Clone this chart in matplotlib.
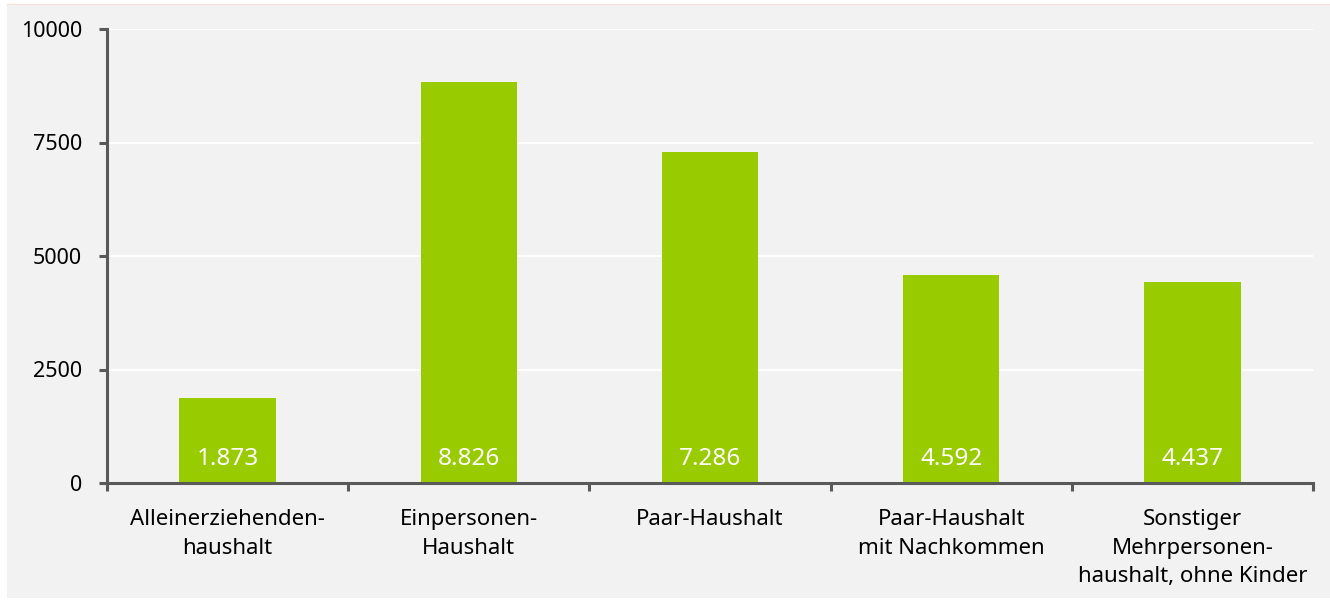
import matplotlib.pyplot as plt
from matplotlib.patches import Rectangle
import numpy as np

categories = ['Alleinerziehenden-\nhaushalt', 'Einpersonen-\nHaushalt', 'Paar-Haushalt',
              'Paar-Haushalt\nmit Nachkommen', 'Sonstiger\nMehrpersonen-\nhaushalt, ohne Kinder']
values = [1873, 8826, 7286, 4592, 4437]
labels = ['1.873', '8.826', '7.286', '4.592', '4.437']
yticks = [0, 2500, 5000, 7500, 10000]

plt.rcParams['font.family'] = ['Noto Sans', 'DejaVu Sans']
W, H = 1330, 601
fig = plt.figure(figsize=(W / 100, H / 100), dpi=100)
fig.patch.set_facecolor('white')
fig.patches.append(Rectangle((7 / W, 3 / H), 1 - 7 / W, 1 - 8 / H, transform=fig.transFigure,
                             facecolor='#f2f2f2', edgecolor='none', zorder=-10))
fig.lines.append(plt.Line2D([7 / W, 1], [1 - 4 / H, 1 - 4 / H], transform=fig.transFigure,
                            color='#f8dcd8', lw=0.8))

ax = fig.add_axes([107 / W, 1 - 483 / H, (1313 - 107) / W, (483 - 29) / H])
ax.set_facecolor('#f2f2f2')
x = np.arange(len(values))
ax.bar(x, values, width=0.4, color='#99cc00', zorder=3)
for xi, lab in zip(x, labels):
    ax.text(xi, 260, lab, ha='center', va='bottom', color='white', fontsize=17.5, zorder=4)

ax.set_xlim(-0.5, len(values) - 0.5)
ax.set_ylim(0, 10000)
ax.set_yticks(yticks)
ax.set_yticklabels([str(v) for v in yticks], fontsize=15.5)
ax.set_xticks(np.arange(len(values) + 1) - 0.5)
ax.set_xticklabels([])
ax.set_xticks(x, minor=True)
ax.set_xticklabels(categories, minor=True, fontsize=16, linespacing=1.45, va='top')
ax.tick_params(axis='x', which='minor', length=0, pad=19)
ax.tick_params(axis='x', which='major', length=6, width=2.2, color='#595959')
ax.tick_params(axis='y', length=6, width=2.2, color='#595959', pad=12)
ax.grid(axis='y', color='white', lw=1.5, zorder=0)
for s in ['top', 'right']:
    ax.spines[s].set_visible(False)
for s in ['left', 'bottom']:
    ax.spines[s].set_color('#595959')
    ax.spines[s].set_linewidth(2.2)
    ax.spines[s].set_zorder(5)

fig.savefig('out.png', dpi=100, facecolor='white')
